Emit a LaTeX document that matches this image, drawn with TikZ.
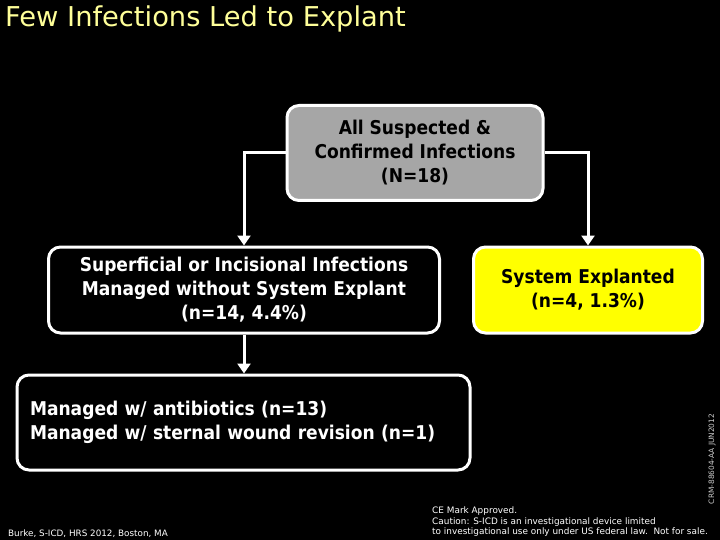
\documentclass[tikz,border=0pt]{standalone}
\usepackage{fontspec}
\setmainfont{DejaVu Sans}
\newfontfamily\boxfont{DejaVu Sans Condensed}[BoldFont={DejaVu Sans Condensed Bold}]
\usetikzlibrary{arrows.meta}
\definecolor{titleyellow}{HTML}{FFFF99}
\definecolor{boxgray}{HTML}{A6A6A6}
\definecolor{explantyellow}{HTML}{FFFF00}

\begin{document}
\begin{tikzpicture}[x=1pt,y=-1pt,
    flowbox/.style={draw=white,line width=3pt,rounded corners=12pt,align=center,
        font=\boxfont\bfseries\fontsize{19}{24}\selectfont},
    flowline/.style={draw=white,line width=3pt,-{Triangle[width=13pt,length=10pt]}},
    smallprint/.style={inner sep=0pt,text=white,align=left}]

% Background
\fill[black] (0,0) rectangle (720,540);
\useasboundingbox (0,0) rectangle (720,540);

% Title
\node[anchor=base west,inner sep=0pt,text=titleyellow,font=\fontsize{27.3}{32}\selectfont] (title) at (5,27) {Few Infections Led to Explant};

% Boxes
\node[flowbox,fill=boxgray,text=black,minimum width=256pt,minimum height=95pt] (all) at (415,153) {All Suspected \&\\Confirmed Infections\\(N=18)};
\node[flowbox,text=white,minimum width=391pt,minimum height=86pt] (sup) at (244,290) {Superficial or Incisional Infections\\Managed without System Explant\\(n=14, 4.4\%)};
\node[flowbox,fill=explantyellow,text=black,minimum width=229pt,minimum height=86pt] (expl) at (588,290) {System Explanted\\(n=4, 1.3\%)};
\node[flowbox,text=white,align=left,text width=427pt,inner xsep=13pt,minimum height=95pt] (mgd) at (243.5,422.5) {Managed w/ antibiotics (n=13)\\Managed w/ sternal wound revision (n=1)};

% Connectors
\draw[flowline] (all.west) -| (sup.north);
\draw[flowline] (all.east) -| (expl.north);
\draw[flowline] (sup.south) -- (mgd.north -| sup.south);

% Footer
\node[smallprint,anchor=base west,font=\fontsize{8.8}{10}\selectfont] (cite) at (8,536) {Burke, S-ICD, HRS 2012, Boston, MA};
\node[smallprint,anchor=north west,font=\fontsize{8.9}{10.5}\selectfont] (caution) at (432,507) {CE Mark Approved.\\Caution: S-ICD is an investigational device limited\\to investigational use only under US federal law.\ \ Not for sale.};
\node[rotate=90,inner sep=0pt,text=white!80!black,font=\fontsize{7.4}{8}\selectfont] (crm) at (712,459) {CRM-88604-AA JUN2012};

\end{tikzpicture}
\end{document}
